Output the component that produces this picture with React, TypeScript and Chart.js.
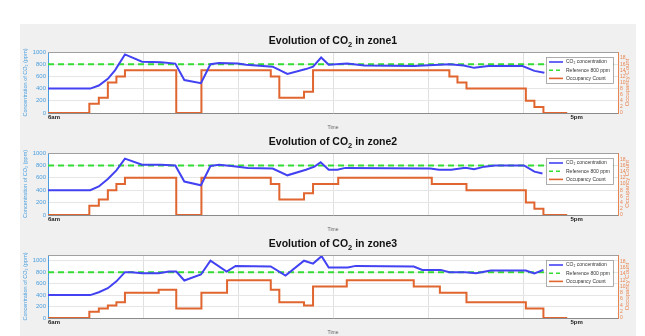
import React, { useEffect, useRef } from "react";
import { Chart, registerables } from "chart.js";

Chart.register(...registerables);

// ---------- data (hours of the day, ppm / persons) ----------
const X_TICKS = [6, 8, 10, 12, 14, 16, 17];
const X_LABELS: Record<number, string> = { 6: "6am", 17: "5pm" };
const REFERENCE_PPM = 800;

const zone1CO2Time = [6.0, 6.89, 7.07, 7.26, 7.41, 7.62, 7.98, 8.38, 8.68, 8.87, 9.22, 9.42, 9.6, 10.0, 10.17, 10.73, 11.04, 11.43, 11.58, 11.75, 11.91, 12.3, 12.66, 13.7, 14.45, 14.75, 14.97, 15.27, 15.99, 16.24, 16.45];
const zone1CO2 = [400, 400, 450, 560, 700, 960, 840, 830, 810, 540, 490, 800, 820, 810, 790, 760, 640, 720, 760, 910, 790, 810, 780, 770, 800, 780, 740, 770, 770, 690, 660];
const zone1OccTime = [6, 6.87, 7.07, 7.26, 7.44, 7.62, 8.7, 9.23, 10.69, 10.87, 11.39, 11.58, 14.45, 14.62, 14.81, 16.06, 16.24, 16.43, 16.93];
const zone1Occ = [0, 3, 5, 10, 12, 14, 0, 14, 12, 5, 7, 14, 12, 10, 8, 4, 2, 0, 0];

const zone2CO2Time = [6.0, 6.89, 7.07, 7.26, 7.44, 7.62, 7.98, 8.38, 8.68, 8.87, 9.22, 9.42, 9.6, 9.86, 10.21, 10.73, 11.04, 11.43, 11.61, 11.74, 11.91, 12.09, 12.26, 14.05, 14.23, 14.49, 14.79, 14.97, 15.19, 15.41, 16.02, 16.24, 16.41];
const zone2CO2 = [400, 400, 460, 580, 720, 910, 810, 810, 800, 540, 480, 790, 810, 790, 760, 750, 640, 730, 780, 850, 730, 730, 760, 750, 730, 730, 760, 740, 780, 800, 800, 700, 670];
const zone2OccTime = [6, 6.87, 7.07, 7.26, 7.44, 7.62, 8.7, 9.23, 10.69, 10.87, 11.39, 11.58, 12.11, 14.08, 14.81, 16.06, 16.24, 16.43, 16.93];
const zone2Occ = [0, 3, 5, 8, 10, 12, 0, 12, 10, 5, 7, 10, 12, 10, 8, 4, 2, 0, 0];

const zone3CO2Time = [6.0, 6.89, 7.07, 7.26, 7.44, 7.62, 7.76, 7.98, 8.33, 8.55, 8.7, 8.87, 9.22, 9.42, 9.76, 9.95, 10.69, 11.0, 11.39, 11.58, 11.76, 11.91, 12.31, 12.48, 13.7, 13.88, 14.27, 14.45, 14.79, 15.01, 15.32, 16.06, 16.24, 16.43];
const zone3CO2 = [400, 400, 450, 520, 640, 800, 800, 780, 780, 810, 810, 655, 760, 1000, 810, 910, 900, 740, 1000, 950, 1080, 880, 880, 910, 900, 840, 840, 800, 800, 780, 830, 830, 780, 840];
const zone3OccTime = [6, 6.87, 7.07, 7.26, 7.44, 7.62, 8.33, 8.7, 9.23, 9.77, 10.69, 10.87, 11.39, 11.58, 12.29, 13.7, 14.25, 14.81, 16.06, 16.43, 16.93];
const zone3Occ = [0, 2, 3, 4, 5, 8, 9, 3, 8, 12, 9, 5, 4, 10, 12, 10, 8, 5, 3, 0, 0];

// ---------- styles ----------
const BLUE = "#4242f2";
const GREEN = "#33dd33";
const ORANGE = "#e0652f";
const LEFT_TXT = "#4a9ede";
const RIGHT_TXT = "#e8844f";
const FONT = "'Liberation Sans', Arial, sans-serif";

type Zone = {
  name: string;
  top: number;
  height: number;
  yMax: number;
  co2T: number[];
  co2: number[];
  occT: number[];
  occ: number[];
};

const ZONES: Zone[] = [
  { name: "zone1", top: 28, height: 105, yMax: 1000, co2T: zone1CO2Time, co2: zone1CO2, occT: zone1OccTime, occ: zone1Occ },
  { name: "zone2", top: 129, height: 106, yMax: 1000, co2T: zone2CO2Time, co2: zone2CO2, occT: zone2OccTime, occ: zone2Occ },
  { name: "zone3", top: 231, height: 107, yMax: 1100, co2T: zone3CO2Time, co2: zone3CO2, occT: zone3OccTime, occ: zone3Occ },
];

const decor = {
  id: "decor",
  beforeDraw(chart: any) {
    const { ctx, chartArea: a } = chart;
    ctx.save();
    ctx.fillStyle = "#ffffff";
    ctx.fillRect(a.left, a.top, a.right - a.left, a.bottom - a.top);
    ctx.restore();
  },
  afterDraw(chart: any, _args: any, opts: any) {
    const { ctx, chartArea: a } = chart;
    ctx.save();
    // top border
    ctx.strokeStyle = "#a0a0a0";
    ctx.lineWidth = 1;
    ctx.beginPath();
    ctx.moveTo(a.left, a.top + 0.5);
    ctx.lineTo(a.right, a.top + 0.5);
    ctx.stroke();

    // title with subscript
    const parts: [string, number, number][] = [
      ["Evolution of CO", 10.5, 0],
      ["2", 7.5, 3],
      [" in " + opts.zone, 10.5, 0],
    ];
    let total = 0;
    for (const [t, s] of parts) {
      ctx.font = `bold ${s}px ${FONT}`;
      total += ctx.measureText(t).width;
    }
    let x = (a.left + a.right) / 2 - total / 2;
    const ty = a.top - 8;
    ctx.fillStyle = "#111";
    ctx.textBaseline = "alphabetic";
    ctx.textAlign = "left";
    for (const [t, s, dy] of parts) {
      ctx.font = `bold ${s}px ${FONT}`;
      ctx.fillText(t, x, ty + dy);
      x += ctx.measureText(t).width;
    }

    // right axis title
    ctx.save();
    ctx.translate(627, (a.top + a.bottom) / 2);
    ctx.rotate(-Math.PI / 2);
    ctx.font = `6px ${FONT}`;
    ctx.fillStyle = RIGHT_TXT;
    ctx.textAlign = "center";
    ctx.textBaseline = "middle";
    ctx.fillText("Occupancy Count", 0, 0);
    ctx.restore();

    // legend
    const bw = 67, bh = 26;
    const bx = a.right - 5 - bw, by = a.top + 5;
    ctx.fillStyle = "#ffffff";
    ctx.fillRect(bx, by, bw, bh);
    ctx.strokeStyle = "#9a9a9a";
    ctx.lineWidth = 0.8;
    ctx.strokeRect(bx + 0.5, by + 0.5, bw, bh);
    const rows = [
      { c: BLUE, d: [], t: "CO\u2082 concentration" },
      { c: GREEN, d: [4, 3], t: "Reference 800 ppm" },
      { c: ORANGE, d: [], t: "Occupancy Count" },
    ];
    rows.forEach((r, i) => {
      const y = by + 5 + i * 8.2;
      ctx.strokeStyle = r.c;
      ctx.lineWidth = 1.6;
      ctx.setLineDash(r.d);
      ctx.beginPath();
      ctx.moveTo(bx + 3, y);
      ctx.lineTo(bx + 17, y);
      ctx.stroke();
      ctx.setLineDash([]);
      ctx.fillStyle = "#333";
      ctx.font = `5px ${FONT}`;
      ctx.textBaseline = "middle";
      ctx.textAlign = "left";
      ctx.fillText(r.t, bx + 20, y);
    });
    ctx.restore();
  },
};

function ZoneChart({ z }: { z: Zone }) {
  const ref = useRef<HTMLCanvasElement>(null);
  useEffect(() => {
    if (!ref.current) return;
    const co2Pts = z.co2T.map((t, i) => ({ x: t, y: z.co2[i] }));
    const occPts = z.occT.map((t, i) => ({ x: t, y: z.occ[i] }));
    const chart = new Chart(ref.current, {
      type: "line",
      data: {
        datasets: [
          { label: "CO\u2082 concentration", data: co2Pts, borderColor: BLUE, borderWidth: 2, pointRadius: 0, tension: 0, yAxisID: "y" },
          { label: "Reference 800 ppm", data: [{ x: 6, y: REFERENCE_PPM }, { x: 18, y: REFERENCE_PPM }], borderColor: GREEN, borderWidth: 2, borderDash: [6, 4], pointRadius: 0, yAxisID: "y" },
          { label: "Occupancy Count", data: occPts, borderColor: ORANGE, borderWidth: 2, pointRadius: 0, stepped: "before", yAxisID: "y1" },
        ],
      },
      options: {
        animation: false,
        responsive: false,
        events: [],
        layout: { padding: { top: 24, left: 0, right: 0, bottom: 0 } },
        plugins: {
          legend: { display: false },
          tooltip: { enabled: false },
          title: { display: false },
          decor: { zone: z.name },
        } as any,
        scales: {
          x: {
            type: "linear",
            min: 6,
            max: 18,
            afterBuildTicks: (s: any) => {
              s.ticks = X_TICKS.map((v) => ({ value: v }));
            },
            afterFit: (s: any) => {
              s.height = 20;
            },
            grid: {
              drawTicks: false,
              color: (c: any) => (c.tick && (c.tick.value === 17 || c.tick.value === 6) ? "rgba(0,0,0,0)" : "#e0e0e0"),
            },
            border: { color: "#8a8a8a" },
            ticks: {
              align: "start",
              padding: 1,
              maxRotation: 0,
              autoSkip: false,
              color: "#222",
              font: { size: 6, weight: "bold", family: FONT },
              callback: (v: any) => X_LABELS[v as number] ?? "",
            },
            title: { display: true, text: "Time", color: "#666", font: { size: 5, family: FONT }, padding: { top: 0, bottom: 2 } },
          },
          y: {
            position: "left",
            min: 0,
            max: z.yMax,
            afterFit: (s: any) => {
              s.width = 48;
            },
            grid: { drawTicks: false, color: "#e6e6e6" },
            border: { color: LEFT_TXT },
            ticks: {
              stepSize: 200,
              includeBounds: false,
              autoSkip: false,
              padding: 2,
              color: LEFT_TXT,
              font: { size: 6, family: FONT },
              callback: (v: any) => String(v),
            },
            title: { display: true, text: "Concentration of CO\u2082 (ppm)", color: LEFT_TXT, font: { size: 5.5, family: FONT }, padding: { top: 22, bottom: 0 } },
          },
          y1: {
            position: "right",
            min: 0,
            max: 20,
            afterFit: (s: any) => {
              s.width = 27;
            },
            grid: { display: false, drawTicks: false },
            border: { color: RIGHT_TXT },
            ticks: {
              stepSize: 2,
              includeBounds: false,
              autoSkip: false,
              padding: 2,
              color: RIGHT_TXT,
              font: { size: 5, family: FONT },
              callback: (v: any) => (v === 20 ? "" : String(v)),
            },
          },
        },
      } as any,
      plugins: [decor],
    });
    return () => chart.destroy();
  }, [z]);
  return (
    <canvas
      ref={ref}
      width={645}
      height={z.height}
      style={{ position: "absolute", left: 0, top: z.top, width: 645, height: z.height, display: "block" }}
    />
  );
}

export default function App() {
  return (
    <div style={{ position: "fixed", left: 0, top: 0, width: 645, height: 336, overflow: "hidden", background: "#ffffff" }}>
      <div style={{ position: "absolute", left: 20, top: 24, width: 616, height: 312, background: "#f0f0f0" }} />
      {ZONES.map((z) => (
        <ZoneChart key={z.name} z={z} />
      ))}
    </div>
  );
}
